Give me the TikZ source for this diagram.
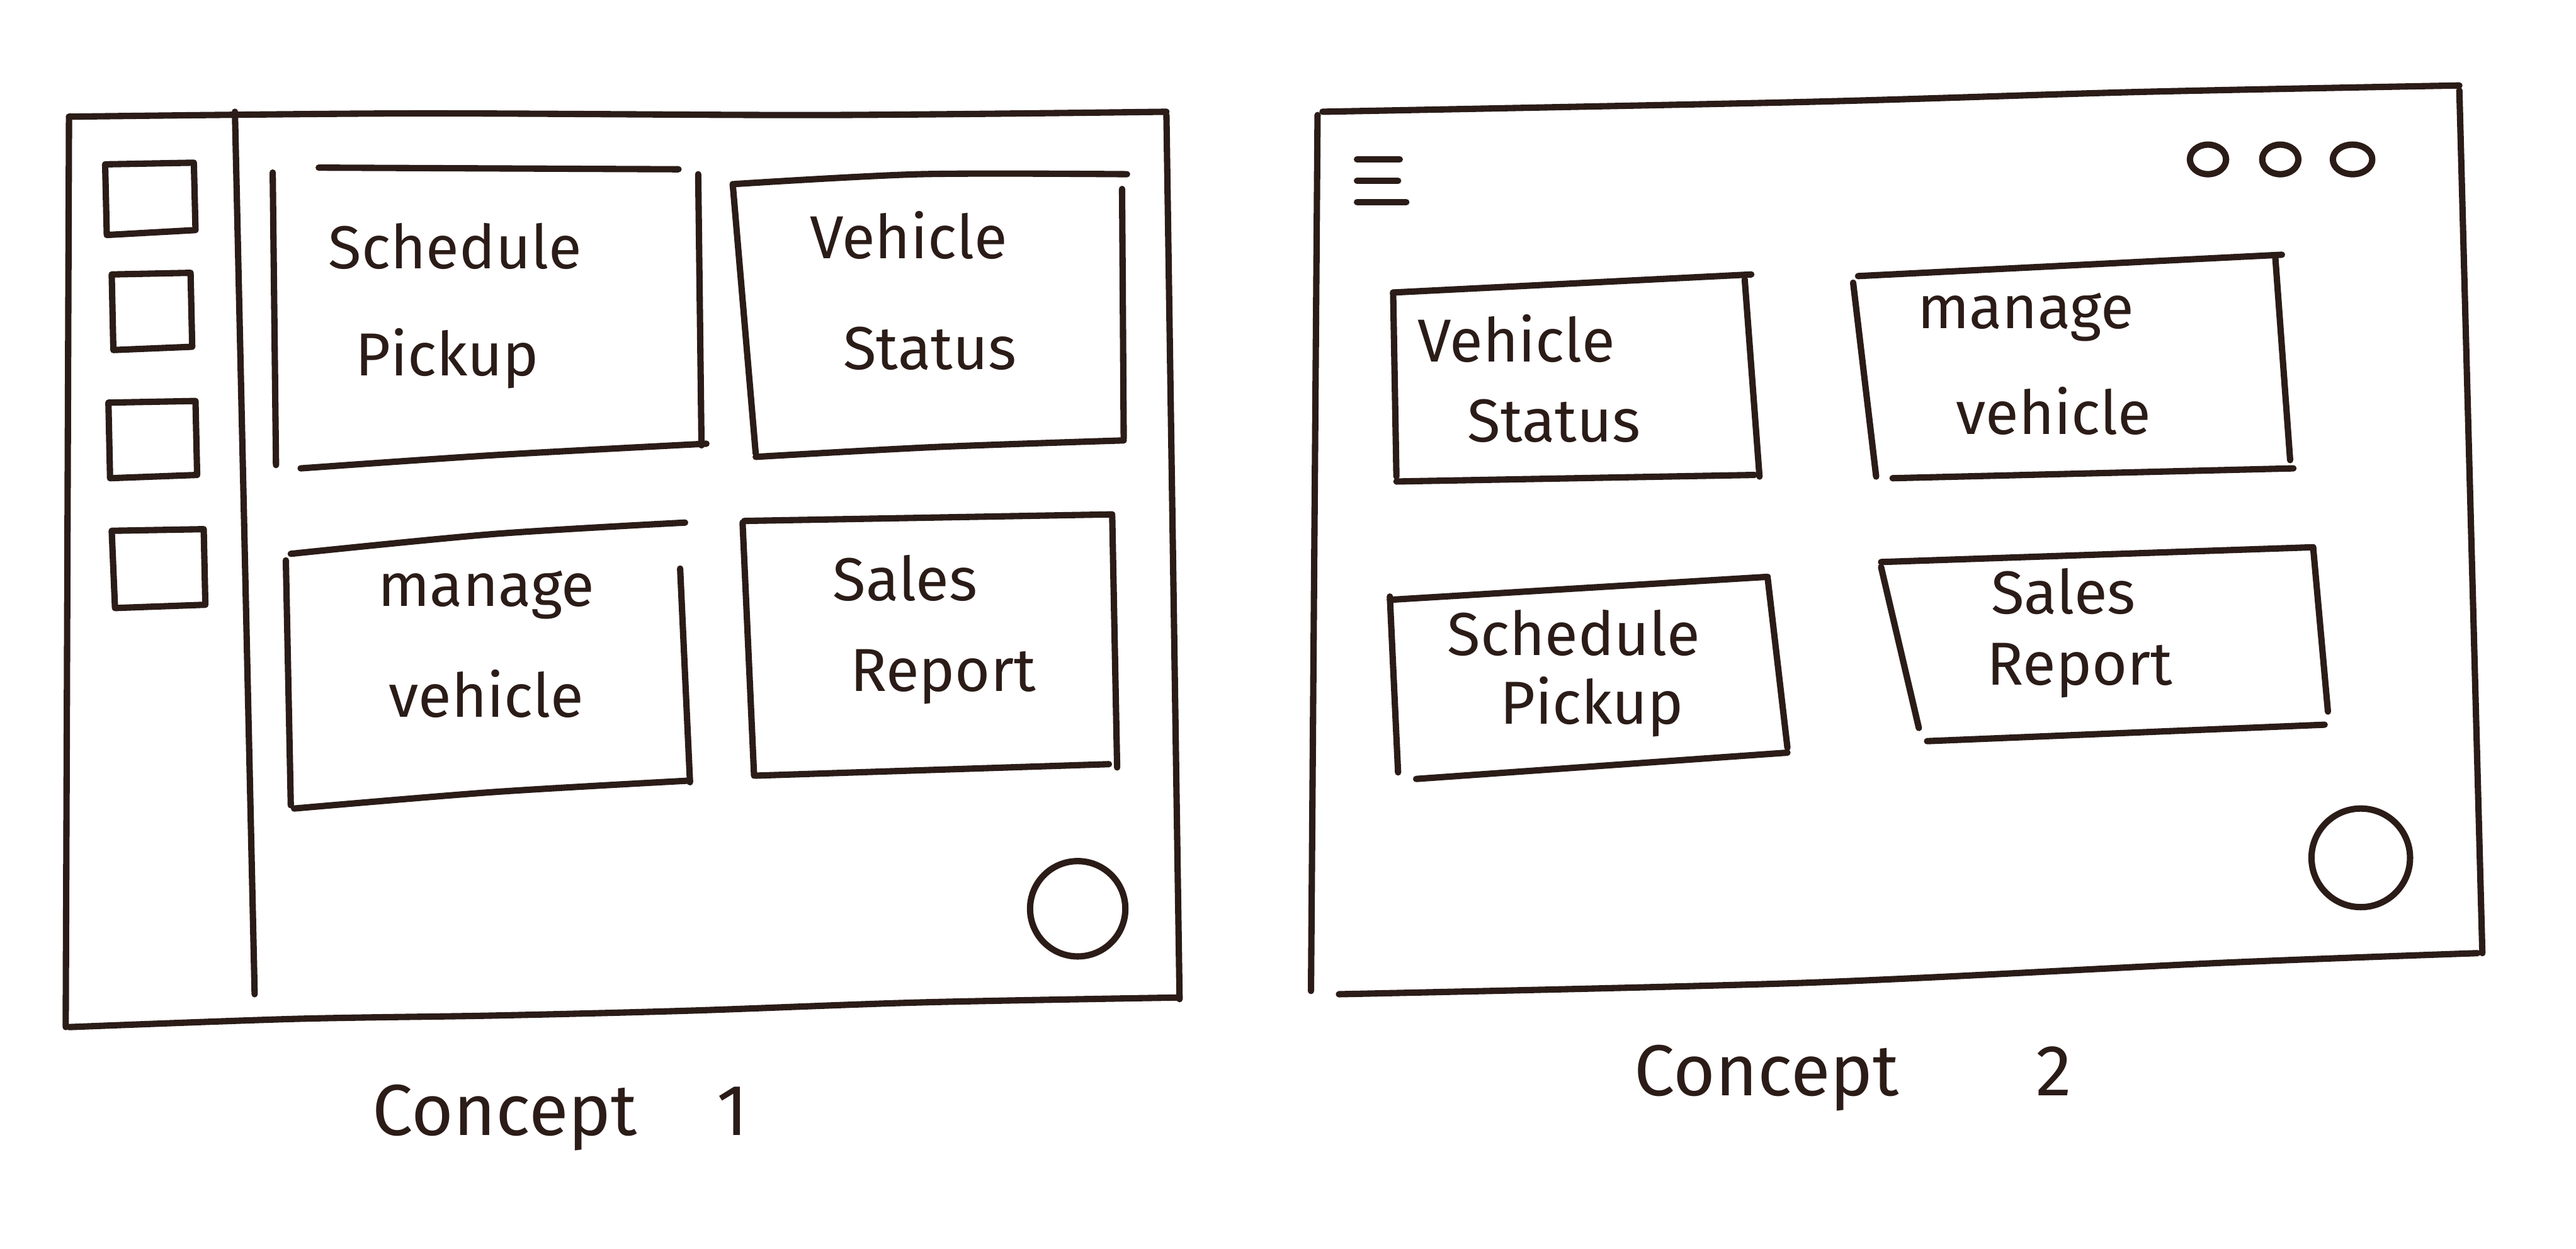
\documentclass[tikz,border=0pt]{standalone}
\usepackage{fontspec}
\setmainfont{Fira Sans}
\begin{document}
\begin{tikzpicture}[x=0.01cm,y=-0.01cm,
  ink/.style={draw=inkc,line width=1.1pt,line cap=round,line join=round},
  label/.style={text=inkc,font=\fontsize{10.5}{12}\selectfont,inner sep=0pt},
  caption/.style={text=inkc,font=\fontsize{12.5}{15}\selectfont,inner sep=0pt}]
\definecolor{inkc}{HTML}{2B1C18}
\useasboundingbox (0,0) rectangle (1568,760);
\fill[white] (0,0) rectangle (1568,760);

% ---------- Concept 1 ----------
% outer frame
\draw[ink] plot[smooth] coordinates {(42,71) (250,69) (500,70) (710,68)};
\draw[ink] (42,71) -- (40,625);
\draw[ink] (710,70) -- (718,608);
\draw[ink] plot[smooth] coordinates {(42,625) (180,620) (300,618) (420,615) (560,610) (718,607)};
% sidebar divider
\draw[ink] (143,68) -- (155,605);
% sidebar icons
\draw[ink] (64,100) -- (118,99) -- (119,140) -- (65,143) -- cycle;
\draw[ink] (68,167) -- (116,166) -- (117,211) -- (69,213) -- cycle;
\draw[ink] (66,245) -- (119,244) -- (120,289) -- (67,291) -- cycle;
\draw[ink] (68,323) -- (124,322) -- (125,368) -- (70,370) -- cycle;
% card: Schedule Pickup
\draw[ink] (194,102) -- (413,103);
\draw[ink] (166,105) -- (168,283);
\draw[ink] (425,106) -- (427,271);
\draw[ink] plot[smooth] coordinates {(183,285) (300,277) (430,270)};
\node[label] (c1sched) at (277,150) {Schedule};
\node[label] (c1pick) at (272,218) {Pickup};
% card: Vehicle Status
\draw[ink] plot[smooth] coordinates {(447,112) (560,106) (686,106)};
\draw[ink] (446,112) -- (460,276);
\draw[ink] (683,115) -- (684,267);
\draw[ink] plot[smooth] coordinates {(460,278) (570,272) (684,268)};
\node[label] (c1veh) at (553,143) {Vehicle};
\node[label] (c1stat) at (566,212) {Status};
% card: manage vehicle
\draw[ink] plot[smooth] coordinates {(177,337) (300,325) (417,318)};
\draw[ink] (174,341) -- (177,490);
\draw[ink] (414,346) -- (420,476);
\draw[ink] plot[smooth] coordinates {(179,492) (300,482) (420,475)};
\node[label] (c1man) at (296,362) {manage};
\node[label] (c1mveh) at (296,422) {vehicle};
% card: Sales Report
\draw[ink] (453,317) -- (677,313);
\draw[ink] (452,318) -- (459,472);
\draw[ink] (677,314) -- (680,467);
\draw[ink] (460,472) -- (675,465);
\node[label] (c1sales) at (551,352) {Sales};
\node[label] (c1rep) at (574,412) {Report};
% floating action button
\draw[ink] (656,553) circle [radius=29];
% caption
\node[caption] (cap1) at (341,680) {Concept\hspace{1.1em}1};

% ---------- Concept 2 ----------
% outer frame
\draw[ink] plot[smooth] coordinates {(805,68) (1100,62) (1300,56) (1497,52)};
\draw[ink] (802,70) -- (798,603);
\draw[ink] (1497,55) -- (1511,580);
\draw[ink] plot[smooth] coordinates {(815,605) (1100,598) (1350,586) (1508,580)};
% menu icon
\draw[ink] (826,97) -- (852,97);
\draw[ink] (826,110) -- (851,110);
\draw[ink] (826,123) -- (856,123);
% overflow dots
\draw[ink] (1344,97) ellipse [x radius=11, y radius=9];
\draw[ink] (1388,97) ellipse [x radius=11, y radius=9];
\draw[ink] (1432,97) ellipse [x radius=12, y radius=9];
% card: Vehicle Status
\draw[ink] (848,178) -- (1066,167);
\draw[ink] (848,178) -- (850,290);
\draw[ink] (1062,170) -- (1071,290);
\draw[ink] (850,293) -- (1068,289);
\node[label] (c2veh) at (923,206) {Vehicle};
\node[label] (c2stat) at (946,256) {Status};
% card: manage vehicle
\draw[ink] (1131,168) -- (1389,155);
\draw[ink] (1128,172) -- (1142,290);
\draw[ink] (1385,157) -- (1394,280);
\draw[ink] (1152,291) -- (1396,285);
\node[label] (c2man) at (1233,193) {manage};
\node[label] (c2mveh) at (1250,250) {vehicle};
% card: Schedule Pickup
\draw[ink] (846,365) -- (1076,351);
\draw[ink] (846,363) -- (851,470);
\draw[ink] (1076,352) -- (1088,455);
\draw[ink] (862,474) -- (1088,458);
\node[label] (c2sched) at (958,385) {Schedule};
\node[label] (c2pick) at (969,430) {Pickup};
% card: Sales Report
\draw[ink] (1145,342) -- (1408,333);
\draw[ink] (1145,345) -- (1168,443);
\draw[ink] (1408,333) -- (1417,433);
\draw[ink] (1173,451) -- (1415,441);
\node[label] (c2sales) at (1256,360) {Sales};
\node[label] (c2rep) at (1266,408) {Report};
% floating action button
\draw[ink] (1437,522) circle [radius=30];
% caption
\node[caption] (cap2) at (1128,656) {Concept\hspace{1.9em}2};
\end{tikzpicture}
\end{document}
